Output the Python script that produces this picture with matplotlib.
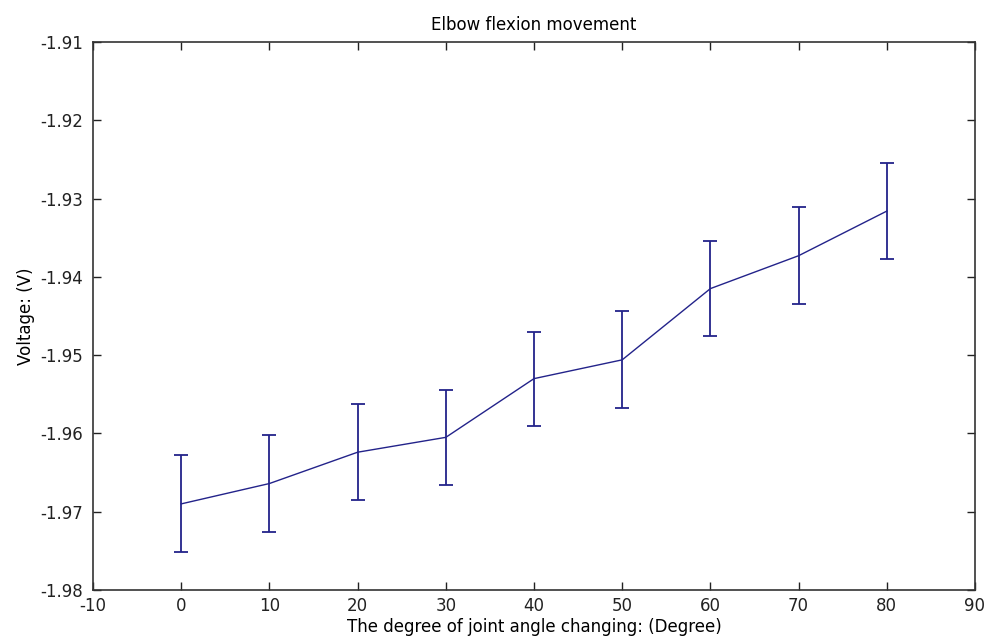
import matplotlib
matplotlib.use("Agg")
import matplotlib.pyplot as plt
import numpy as np

# joint angle (degree) vs. mean voltage with error bars
angles = [0, 10, 20, 30, 40, 50, 60, 70, 80]
voltage = [-1.9690, -1.9664, -1.9624, -1.9605, -1.9530, -1.9506, -1.9415, -1.9373, -1.9316]
errors = [0.0062, 0.0062, 0.0061, 0.0061, 0.0060, 0.0062, 0.0061, 0.0062, 0.0061]

xticks = [-10, 0, 10, 20, 30, 40, 50, 60, 70, 80, 90]
yticks = [-1.98, -1.97, -1.96, -1.95, -1.94, -1.93, -1.92, -1.91]

plt.rcParams["font.family"] = ["DejaVu Sans"]

fig = plt.figure(figsize=(9.87, 6.41), dpi=100)
ax = fig.add_axes([93 / 987, 1 - 590 / 641, (975 - 93) / 987, (590 - 42) / 641])

ax.errorbar(angles, voltage, yerr=errors, color="#23238a", linewidth=1.0,
            elinewidth=1.3, capsize=4.8, capthick=1.3)

ax.set_xlim(-10, 90)
ax.set_ylim(-1.98, -1.91)
ax.set_xticks(xticks)
ax.set_yticks(yticks)
ax.set_xticklabels([str(t) for t in xticks])
ax.set_yticklabels(["%.2f" % t for t in yticks])

ax.tick_params(direction="in", length=6, width=1, top=True, right=True,
               labelsize=12, colors="#222222")
ax.tick_params(axis="y", pad=7)
ax.tick_params(axis="x", pad=5)
for s in ax.spines.values():
    s.set_linewidth(1.2)
    s.set_color("#333333")

ax.set_title("Elbow flexion movement", fontsize=12, pad=9)
ax.set_xlabel("The degree of joint angle changing: (Degree)", fontsize=12, labelpad=2)
ax.set_ylabel("Voltage: (V)", fontsize=12, labelpad=4)

fig.savefig("out.png", dpi=100)
